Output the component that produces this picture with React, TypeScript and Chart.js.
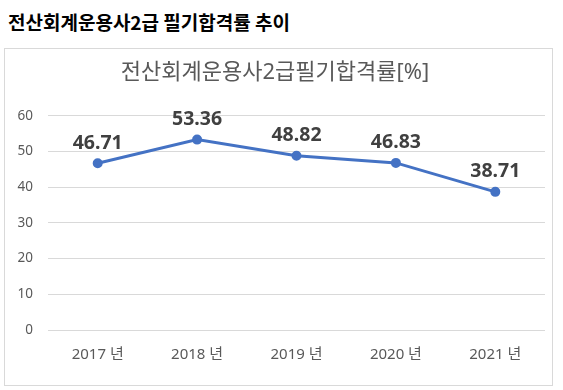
import React, { useEffect, useRef } from "react";
import { Chart, registerables } from "chart.js";

Chart.register(...registerables);

const pageTitle = "전산회계운용사2급 필기합격률 추이";
const chartTitle = "전산회계운용사2급필기합격률[%]";
const categories = ["2017 년", "2018 년", "2019 년", "2020 년", "2021 년"];
const passRates = [46.71, 53.36, 48.82, 46.83, 38.71];
const yTicks = [0, 10, 20, 30, 40, 50, 60];

const FONT = "'Noto Sans', 'Noto Sans CJK KR', sans-serif";

const dataLabelPlugin = {
  id: "dataLabels",
  afterDatasetsDraw(chart: any) {
    const ctx = chart.ctx;
    const meta = chart.getDatasetMeta(0);
    ctx.save();
    ctx.font = `bold 19.5px ${FONT}`;
    ctx.fillStyle = "#404040";
    ctx.textAlign = "center";
    ctx.textBaseline = "middle";
    meta.data.forEach((pt: any, i: number) => {
      ctx.fillText(passRates[i].toFixed(2), pt.x, pt.y - 20);
    });
    ctx.restore();
  },
};

export default function App() {
  const canvasRef = useRef<HTMLCanvasElement | null>(null);

  useEffect(() => {
    if (!canvasRef.current) return;
    const chart = new Chart(canvasRef.current, {
      type: "line",
      data: {
        labels: categories,
        datasets: [
          {
            data: passRates,
            borderColor: "#4472C4",
            backgroundColor: "#4472C4",
            borderWidth: 3,
            pointRadius: 3.5,
            pointBackgroundColor: "#4472C4",
            pointBorderColor: "#4472C4",
            tension: 0,
          },
        ],
      },
      options: {
        responsive: false,
        animation: false,
        layout: { padding: { left: 0, right: 7, top: 0, bottom: 5 } },
        plugins: {
          legend: { display: false },
          tooltip: { enabled: false },
          title: {
            display: true,
            text: chartTitle,
            color: "#595959",
            font: { family: FONT, size: 22, weight: "normal" },
            padding: { top: 11, bottom: 29.5 },
          },
        },
        scales: {
          x: {
            offset: true,
            grid: { display: false, drawTicks: false, offset: true },
            border: { display: false },
            ticks: {
              color: "#595959",
              font: { family: FONT, size: 15 },
              padding: 16,
              maxRotation: 0,
            },
          },
          y: {
            min: 0,
            max: 60,
            afterBuildTicks(scale: any) {
              scale.ticks = yTicks.map((v) => ({ value: v }));
            },
            afterFit(scale: any) {
              scale.width = 43;
            },
            grid: { color: "#d9d9d9", lineWidth: 1, drawTicks: false },
            border: { display: false },
            ticks: {
              color: "#595959",
              font: { family: FONT, size: 13.5 },
              padding: 15,
            },
          },
        },
      },
      plugins: [dataLabelPlugin],
    } as any);
    return () => chart.destroy();
  }, []);

  return (
    <div style={{ position: "fixed", left: 0, top: 0, width: 563, height: 390, background: "#fff" }}>
      <div
        style={{
          position: "absolute",
          left: 8,
          top: 10,
          fontFamily: "'Noto Sans CJK KR', sans-serif",
          fontWeight: "bold",
          fontSize: 19,
          lineHeight: "24px",
          color: "#000",
          whiteSpace: "nowrap",
        }}
      >
        {pageTitle}
      </div>
      <div
        style={{
          position: "absolute",
          left: 4,
          top: 48,
          width: 547,
          height: 336,
          border: "1px solid #d9d9d9",
        }}
      >
        <canvas ref={canvasRef} width={547} height={336} style={{ display: "block" }} />
      </div>
    </div>
  );
}
